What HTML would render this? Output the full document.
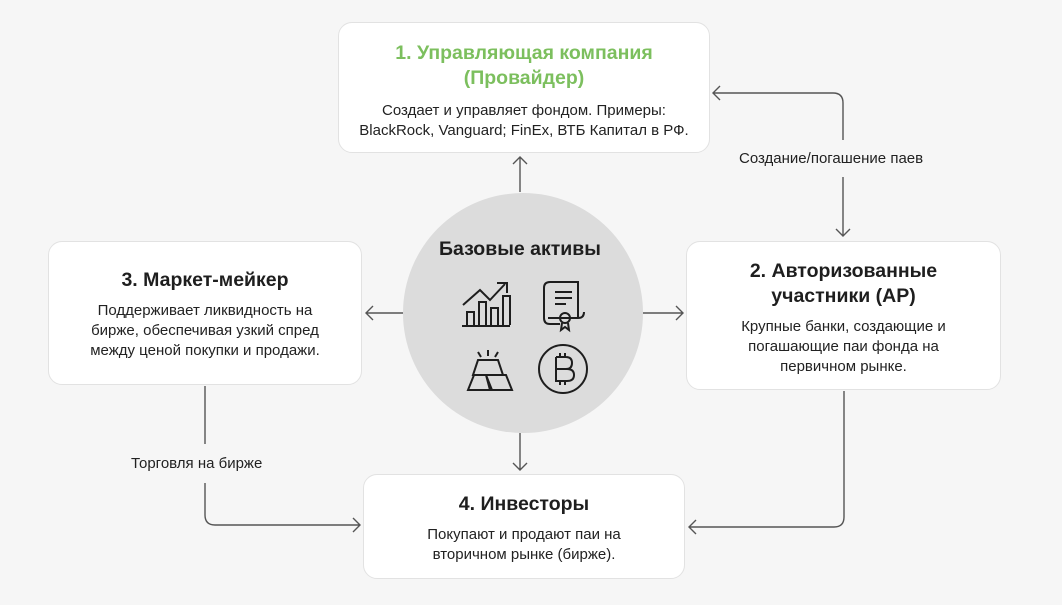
<!DOCTYPE html>
<html><head><meta charset="utf-8"><style>
body{margin:0;width:1062px;height:605px;background:#f6f6f6;position:relative;overflow:hidden;font-family:"Liberation Sans","DejaVu Sans",sans-serif;color:#1e1e1e}
.box{position:absolute;background:#fff;border:1px solid #e2e2e2;border-radius:14px;box-sizing:border-box;text-align:center}
.t{font-weight:bold;font-size:19.5px;line-height:25px}
.d{font-size:15px;line-height:20px;color:#222}
.lbl{position:absolute;font-size:15px;color:#222}
svg{position:absolute;left:0;top:0}
</style></head><body>
<svg width="1062" height="605">
<circle cx="523" cy="313" r="120" fill="#dcdcdc"/>
<g fill="none" stroke="#555" stroke-width="1.4">
<path d="M520 192V157M513 164L520 157L527 164"/>
<path d="M403 313H366M373 306L366 313L373 320"/>
<path d="M643 313H683M676 306L683 313L676 320"/>
<path d="M520 433V470M513 463L520 470L527 463"/>
<path d="M843 140V103Q843 93 833 93H713M720 86L713 93L720 100"/>
<path d="M843 177V236M836 229L843 236L850 229"/>
<path d="M844 391V517Q844 527 834 527H689M696 520L689 527L696 534"/>
<path d="M205 386V444M205 483V515Q205 525 215 525H360M353 518L360 525L353 532"/>
</g>
<g fill="none" stroke="#1e1e1e" stroke-width="2">
<path d="M462 326H510M467 325V312H474V325M479 325V302H486V325M491 325V308H498V325M503 325V296H510V325"/>
<path d="M463 305L480 290L490 300L505 284M497 283H507V293"/>
<path d="M550 282H578V318H548M550 282Q544 282 544 288V318Q544 324 550 324H560M578 318Q584 318 584 312"/>
<path d="M555 292H572M555 298H572M555 304H566"/>
<circle cx="565" cy="318" r="5"/><path d="M562 323L561 330L565 327L569 330L568 323"/>
<path d="M474 375L468 390H492L486 375ZM486 375L490 390H512L506 375ZM478 360H498L503 375H473Z"/>
<path d="M488 350V356M478 352L481 357M498 352L495 357"/>
<circle cx="563" cy="369" r="24"/>
<path d="M556 357H566Q572 357 572 363Q572 369 566 369H556M556 369H567Q574 369 574 375Q574 381 567 381H556V357M560 353V357M565 353V357M560 381V385M565 381V385"/>
</g>
</svg>
<div class="lbl" style="left:439px;top:238px;font-size:19.5px;font-weight:bold;color:#1e1e1e">Базовые активы</div>
<div class="box" style="left:338px;top:22px;width:372px;height:131px;padding-top:18px">
<div class="t" style="color:#7cbf5e">1. Управляющая компания<br>(Провайдер)</div>
<div class="d" style="margin-top:10px">Создает и управляет фондом. Примеры:<br>BlackRock, Vanguard; FinEx, ВТБ Капитал в РФ.</div></div>
<div class="box" style="left:48px;top:241px;width:314px;height:144px;padding-top:26px">
<div class="t">3. Маркет-мейкер</div>
<div class="d" style="margin-top:8px">Поддерживает ликвидность на<br>бирже, обеспечивая узкий спред<br>между ценой покупки и продажи.</div></div>
<div class="box" style="left:686px;top:241px;width:315px;height:149px;padding-top:17px">
<div class="t">2. Авторизованные<br>участники (AP)</div>
<div class="d" style="margin-top:8px">Крупные банки, создающие и<br>погашающие паи фонда на<br>первичном рынке.</div></div>
<div class="box" style="left:363px;top:474px;width:322px;height:105px;padding-top:17px">
<div class="t">4. Инвесторы</div>
<div class="d" style="margin-top:8px">Покупают и продают паи на<br>вторичном рынке (бирже).</div></div>
<div class="lbl" style="left:739px;top:150px">Создание/погашение паев</div>
<div class="lbl" style="left:131px;top:455px">Торговля на бирже</div>
</body></html>
